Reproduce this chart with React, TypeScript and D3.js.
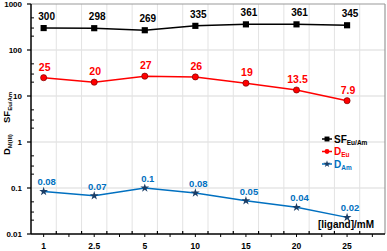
import * as d3 from "d3";

// categories on the x axis (ligand concentration, mM)
const ligand = ["1", "2.5", "5", "10", "15", "20", "25"];

// series values
const sfEuAm = [300, 298, 269, 335, 361, 361, 345];
const dEu = [25, 20, 27, 26, 19, 13.5, 7.9];
const dEuErr = [1.2, 0.9, 1.4, 1.6, 0.8, 0.6, 0.4];
const dAm = [0.084, 0.068, 0.1, 0.078, 0.053, 0.038, 0.023];

// point labels as printed
const sfLabels = ["300", "298", "269", "335", "361", "361", "345"];
const euLabels = ["25", "20", "27", "26", "19", "13.5", "7.9"];
const amLabels = ["0.08", "0.07", "0.1", "0.08", "0.05", "0.04", "0.02"];

const yTicks = [0.01, 0.1, 1, 10, 100, 1000];
const yTickLabels = ["0.01", "0.1", "1", "10", "100", "1000"];

const W = 387;
const H = 251;
const margin = { top: 4, right: 2, bottom: 17, left: 31 };

const BLUE = "#0070C0";
const RED = "#FF0000";
const FONT = "'Liberation Sans', Arial, sans-serif";

export default function App() {
  const x = d3
    .scaleLinear()
    .domain([0.75, ligand.length + 0.75])
    .range([margin.left, W - margin.right]);
  const y = d3
    .scaleLog()
    .domain([0.01, 1000])
    .range([H - margin.bottom, margin.top]);

  const x0 = margin.left;
  const x1 = W - margin.right;
  const y0 = H - margin.bottom;
  const y1 = margin.top;

  const line = d3
    .line<number>()
    .x((_, i) => x(i + 1))
    .y((d) => y(d));

  // grid lines sit between categories, every half step
  const xGrid = d3.range(1.25, ligand.length + 0.75, 0.5);
  const xMinor = d3.range(1, ligand.length + 0.6, 0.5);
  const yMinor: number[] = [];
  yTicks.slice(0, -1).forEach((t) => {
    [2, 3, 5].forEach((m) => yMinor.push(t * m));
  });

  const star = d3.symbol(d3.symbolStar, 24)();
  const square = d3.symbol(d3.symbolSquare, 38)();
  const circle = d3.symbol(d3.symbolCircle, 30)();

  return (
    <svg
      width={W}
      height={H}
      style={{ position: "absolute", left: 0, top: 0, fontFamily: FONT }}
    >
      <rect width={W} height={H} fill="#fff" />
      {/* grid */}
      {yTicks.slice(1, -1).map((t) => (
        <line key={"gy" + t} x1={x0} x2={x1} y1={y(t)} y2={y(t)} stroke="#d9d9d9" strokeWidth={1} />
      ))}
      {xGrid.map((g) => (
        <line key={"gx" + g} x1={x(g)} x2={x(g)} y1={y1} y2={y0} stroke="#e3e3e3" strokeWidth={1} />
      ))}
      {/* frame top / right */}
      <line x1={x0} x2={x1} y1={y1} y2={y1} stroke="#999" strokeWidth={1.2} />
      <line x1={x1} x2={x1} y1={y1} y2={y0} stroke="#999" strokeWidth={1.2} />

      {/* axes */}
      <line x1={x0} x2={x0} y1={y1} y2={y0} stroke="#000" strokeWidth={1.5} />
      <line x1={x0} x2={x1} y1={y0} y2={y0} stroke="#000" strokeWidth={1.5} />
      {yTicks.map((t) => (
        <line key={"yt" + t} x1={x0 - 4} x2={x0} y1={y(t)} y2={y(t)} stroke="#000" strokeWidth={1.2} />
      ))}
      {yMinor.map((t) => (
        <line key={"ym" + t} x1={x0} x2={x0 + 3} y1={y(t)} y2={y(t)} stroke="#000" strokeWidth={1} />
      ))}
      {xGrid.map((g) => (
        <line key={"xt" + g} x1={x(g)} x2={x(g)} y1={y0 - 3} y2={y0} stroke="#000" strokeWidth={1.2} />
      ))}
      {xMinor.map((g) => (
        <line key={"xm" + g} x1={x(g)} x2={x(g)} y1={y0} y2={y0 + 3} stroke="#000" strokeWidth={1} />
      ))}
      {yTicks.map((t, i) => (
        <text key={"yl" + t} x={22} y={y(t)} dy="0.35em" textAnchor="end" fontSize={8} fontWeight="bold">
          {yTickLabels[i]}
        </text>
      ))}
      {ligand.map((l, i) => (
        <text key={"xl" + l} x={x(i + 1)} y={249} textAnchor="middle" fontSize={8.5} fontWeight="bold">
          {l}
        </text>
      ))}

      {/* axis titles */}
      <text transform="translate(10,123) rotate(-90)" fontSize={9.5} fontWeight="bold">
        SF<tspan fontSize={6} dy={2}>Eu/Am</tspan>
      </text>
      <text transform="translate(10,155) rotate(-90)" fontSize={9.5} fontWeight="bold">
        D<tspan fontSize={6} dy={2}>M(III)</tspan>
      </text>
      <text x={346} y={228} textAnchor="middle" fontSize={10} fontWeight="bold">
        [ligand]/mM
      </text>

      {/* SF series */}
      <path d={line(sfEuAm) ?? ""} fill="none" stroke="#000" strokeWidth={1.5} />
      {sfEuAm.map((v, i) => (
        <path key={"sf" + i} d={square ?? ""} transform={`translate(${x(i + 1)},${y(v)})`} fill="#000" />
      ))}
      {sfLabels.map((l, i) => (
        <text key={"sfl" + i} x={x(i + 1) + 3} y={y(sfEuAm[i]) - 8} textAnchor="middle" fontSize={10} fontWeight="bold" fill="#000">
          {l}
        </text>
      ))}

      {/* D_Eu series */}
      <path d={line(dEu) ?? ""} fill="none" stroke={RED} strokeWidth={1.5} />
      {dEu.map((v, i) => (
        <g key={"eu" + i}>
          <line x1={x(i + 1)} x2={x(i + 1)} y1={y(v + dEuErr[i])} y2={y(v - dEuErr[i])} stroke="#000" strokeWidth={1} />
          <line x1={x(i + 1) - 2.5} x2={x(i + 1) + 2.5} y1={y(v + dEuErr[i])} y2={y(v + dEuErr[i])} stroke="#000" strokeWidth={1} />
          <line x1={x(i + 1) - 2.5} x2={x(i + 1) + 2.5} y1={y(v - dEuErr[i])} y2={y(v - dEuErr[i])} stroke="#000" strokeWidth={1} />
          <path d={circle ?? ""} transform={`translate(${x(i + 1)},${y(v)})`} fill={RED} stroke="#600" strokeWidth={0.6} />
        </g>
      ))}
      {euLabels.map((l, i) => (
        <text key={"eul" + i} x={x(i + 1) + 1} y={y(dEu[i]) - 7} textAnchor="middle" fontSize={10.5} fontWeight="bold" fill={RED}>
          {l}
        </text>
      ))}

      {/* D_Am series */}
      <path d={line(dAm) ?? ""} fill="none" stroke={BLUE} strokeWidth={1.5} />
      {dAm.map((v, i) => (
        <path key={"am" + i} d={star ?? ""} transform={`translate(${x(i + 1)},${y(v)})`} fill="#1a3d66" />
      ))}
      {amLabels.map((l, i) => (
        <text key={"aml" + i} x={x(i + 1) + 3} y={y(dAm[i]) - 6} textAnchor="middle" fontSize={9.5} fontWeight="bold" fill={BLUE}>
          {l}
        </text>
      ))}

      {/* legend */}
      {[
        { name: "SF", sub: "Eu/Am", color: "#000", text: "#000", sym: square, yy: 139 },
        { name: "D", sub: "Eu", color: RED, text: RED, sym: circle, yy: 151.5 },
        { name: "D", sub: "Am", color: BLUE, text: BLUE, sym: star, yy: 164 },
      ].map((s) => (
        <g key={s.sub} transform={`translate(322,${s.yy})`}>
          <line x1={0} x2={10} y1={0} y2={0} stroke={s.color} strokeWidth={1.5} />
          <path d={s.sym ?? ""} transform="translate(5,0) scale(0.8)" fill={s.color === BLUE ? "#1a3d66" : s.color} />
          <text x={12} y={0} dy="0.35em" fontSize={10} fontWeight="bold" fill={s.text}>
            {s.name}
            <tspan fontSize={6.5} dy={2}>{s.sub}</tspan>
          </text>
        </g>
      ))}
    </svg>
  );
}
